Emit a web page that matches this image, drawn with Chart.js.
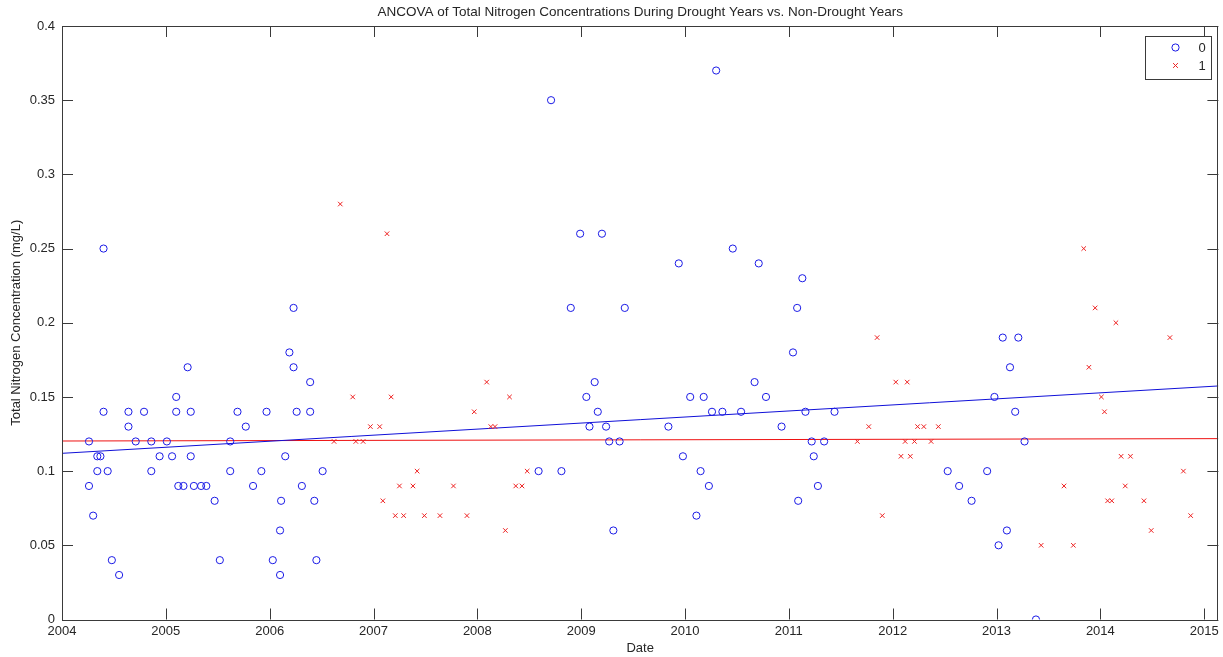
<!DOCTYPE html>
<html>
<head>
<meta charset="utf-8">
<script src="https://cdn.jsdelivr.net/npm/chart.js@4.4.1/dist/chart.umd.min.js"></script>
<style>
html,body{margin:0;padding:0;background:#fff;}
#wrap{width:1223px;height:657px;}
</style>
</head>
<body>
<div id="wrap"><canvas id="c" width="1223" height="657"></canvas></div>
<script>
const chartTitle = 'ANCOVA of Total Nitrogen Concentrations During Drought Years vs. Non-Drought Years';
const xTitle = 'Date';
const yTitle = 'Total Nitrogen Concentration (mg/L)';
const seriesLabels = ['0', '1'];
const xTicks = [2004, 2005, 2006, 2007, 2008, 2009, 2010, 2011, 2012, 2013, 2014, 2015];
const yTicks = [0, 0.05, 0.1, 0.15, 0.2, 0.25, 0.3, 0.35, 0.4];
const xRange = [2004, 2015.137];

// Group 0 (non-drought): decimal year and TN (mg/L)
const dates0 = [2004.26, 2004.26, 2004.30, 2004.34, 2004.37, 2004.34, 2004.40, 2004.40, 2004.44, 2004.48,
  2004.55, 2004.64, 2004.64, 2004.71, 2004.79, 2004.86, 2004.86, 2004.94, 2005.01, 2005.06,
  2005.10, 2005.10, 2005.12, 2005.17, 2005.21, 2005.24, 2005.24, 2005.27, 2005.34, 2005.39,
  2005.47, 2005.52, 2005.62, 2005.62, 2005.69, 2005.77, 2005.84, 2005.92, 2005.97, 2006.03,
  2006.10, 2006.10, 2006.11, 2006.15, 2006.19, 2006.23, 2006.23, 2006.26, 2006.31, 2006.39,
  2006.39, 2006.43, 2006.45, 2006.51, 2008.59, 2008.71, 2008.81, 2008.90, 2008.99, 2009.05,
  2009.08, 2009.13, 2009.16, 2009.20, 2009.24, 2009.27, 2009.31, 2009.37, 2009.42, 2009.84,
  2009.94, 2009.98, 2010.05, 2010.11, 2010.15, 2010.18, 2010.23, 2010.26, 2010.30, 2010.36,
  2010.46, 2010.54, 2010.67, 2010.71, 2010.78, 2010.93, 2011.04, 2011.08, 2011.09, 2011.13,
  2011.16, 2011.22, 2011.24, 2011.28, 2011.34, 2011.44, 2012.53, 2012.64, 2012.76, 2012.91,
  2012.98, 2013.02, 2013.06, 2013.10, 2013.13, 2013.18, 2013.21, 2013.27, 2013.38];
const tn0 = [0.12, 0.09, 0.07, 0.11, 0.11, 0.10, 0.14, 0.25, 0.10, 0.04,
  0.03, 0.14, 0.13, 0.12, 0.14, 0.12, 0.10, 0.11, 0.12, 0.11,
  0.15, 0.14, 0.09, 0.09, 0.17, 0.14, 0.11, 0.09, 0.09, 0.09,
  0.08, 0.04, 0.12, 0.10, 0.14, 0.13, 0.09, 0.10, 0.14, 0.04,
  0.03, 0.06, 0.08, 0.11, 0.18, 0.17, 0.21, 0.14, 0.09, 0.16,
  0.14, 0.08, 0.04, 0.10, 0.10, 0.35, 0.10, 0.21, 0.26, 0.15,
  0.13, 0.16, 0.14, 0.26, 0.13, 0.12, 0.06, 0.12, 0.21, 0.13,
  0.24, 0.11, 0.15, 0.07, 0.10, 0.15, 0.09, 0.14, 0.37, 0.14,
  0.25, 0.14, 0.16, 0.24, 0.15, 0.13, 0.18, 0.21, 0.08, 0.23,
  0.14, 0.12, 0.11, 0.09, 0.12, 0.14, 0.10, 0.09, 0.08, 0.10,
  0.15, 0.05, 0.19, 0.06, 0.17, 0.14, 0.19, 0.12, 0.00];

// Group 1 (drought)
const dates1 = [2006.62, 2006.68, 2006.80, 2006.83, 2006.90, 2006.97, 2007.06, 2007.09, 2007.13, 2007.17,
  2007.21, 2007.25, 2007.29, 2007.38, 2007.42, 2007.49, 2007.64, 2007.77, 2007.90, 2007.97,
  2008.09, 2008.13, 2008.17, 2008.27, 2008.31, 2008.37, 2008.43, 2008.48, 2011.66, 2011.77,
  2011.85, 2011.90, 2012.03, 2012.08, 2012.12, 2012.14, 2012.17, 2012.21, 2012.24, 2012.30,
  2012.37, 2012.44, 2013.43, 2013.65, 2013.74, 2013.84, 2013.89, 2013.95, 2014.01, 2014.04,
  2014.07, 2014.11, 2014.15, 2014.20, 2014.24, 2014.29, 2014.42, 2014.49, 2014.67, 2014.80,
  2014.87];
const tn1 = [0.12, 0.28, 0.15, 0.12, 0.12, 0.13, 0.13, 0.08, 0.26, 0.15,
  0.07, 0.09, 0.07, 0.09, 0.10, 0.07, 0.07, 0.09, 0.07, 0.14,
  0.16, 0.13, 0.13, 0.06, 0.15, 0.09, 0.09, 0.10, 0.12, 0.13,
  0.19, 0.07, 0.16, 0.11, 0.12, 0.16, 0.11, 0.12, 0.13, 0.13,
  0.12, 0.13, 0.05, 0.09, 0.05, 0.25, 0.17, 0.21, 0.15, 0.14,
  0.08, 0.08, 0.20, 0.11, 0.09, 0.11, 0.08, 0.06, 0.19, 0.10,
  0.07];

// Fitted ANCOVA lines: values at the ends of the x range
const fit0 = [0.112, 0.1574];
const fit1 = [0.1203, 0.1219];

const blue = '#1a1ae6';
const red = '#ee2222';
const axisColor = '#3a3a3a';
const textColor = '#262626';
const fontFamily = '"Liberation Sans", Arial, sans-serif';

const toPts = (xs, ys) => xs.map((x, i) => ({x: x, y: ys[i]}));

const framePlugin = {
  id: 'frame',
  afterDraw(chart) {
    const ctx = chart.ctx;
    const a = chart.chartArea;
    const tl = 11;
    ctx.save();
    ctx.strokeStyle = axisColor;
    ctx.lineWidth = 1;
    ctx.strokeRect(Math.round(a.left) + 0.5, Math.round(a.top) + 0.5, Math.round(a.right - a.left) - 1, Math.round(a.bottom - a.top));
    ctx.beginPath();
    const xs = chart.scales.x, ys = chart.scales.y;
    xs.ticks.forEach(t => {
      const px = Math.round(xs.getPixelForValue(t.value)) + 0.5;
      ctx.moveTo(px, a.bottom); ctx.lineTo(px, a.bottom - tl);
      ctx.moveTo(px, a.top); ctx.lineTo(px, a.top + tl);
    });
    ys.ticks.forEach(t => {
      const py = Math.round(ys.getPixelForValue(t.value)) + 0.5;
      ctx.moveTo(a.left, py); ctx.lineTo(a.left + tl, py);
      ctx.moveTo(a.right, py); ctx.lineTo(a.right - tl, py);
    });
    ctx.stroke();

    // title
    ctx.fillStyle = textColor;
    ctx.font = '13.5px ' + fontFamily;
    ctx.textAlign = 'center';
    ctx.textBaseline = 'middle';
    ctx.fillText(chartTitle, (a.left + a.right) / 2, 12);

    // legend
    const bw = 66, bh = 43;
    const bx = Math.round(a.right - 7 - bw) + 0.5, by = Math.round(a.top + 10) + 0.5;
    ctx.fillStyle = '#fff';
    ctx.fillRect(bx, by, bw, bh);
    ctx.strokeStyle = axisColor;
    ctx.strokeRect(bx, by, bw, bh);
    const rows = [by + 11, by + 29];
    chart.data.datasets.filter(d => d.legend).forEach((d, i) => {
      const mx = bx + 30, my = rows[i];
      ctx.strokeStyle = d.borderColor;
      ctx.lineWidth = 1;
      ctx.beginPath();
      if (d.pointStyle === 'circle') {
        ctx.arc(mx, my, d.pointRadius, 0, Math.PI * 2);
      } else {
        const r = d.pointRadius * 0.75;
        ctx.moveTo(mx - r, my - r); ctx.lineTo(mx + r, my + r);
        ctx.moveTo(mx - r, my + r); ctx.lineTo(mx + r, my - r);
      }
      ctx.stroke();
      ctx.fillStyle = textColor;
      ctx.font = '13px ' + fontFamily;
      ctx.textAlign = 'left';
      ctx.fillText(d.label, bx + 53, my + 1);
    });
    ctx.restore();
  }
};

new Chart(document.getElementById('c'), {
  type: 'scatter',
  data: {
    datasets: [
      {label: seriesLabels[0], legend: true, data: toPts(dates0, tn0), pointStyle: 'circle', pointRadius: 3.6,
        borderColor: blue, backgroundColor: 'rgba(0,0,0,0)', borderWidth: 1, pointHoverRadius: 3.6},
      {label: seriesLabels[1], legend: true, data: toPts(dates1, tn1), pointStyle: 'crossRot', pointRadius: 3.2,
        borderColor: red, backgroundColor: red, borderWidth: 1, pointHoverRadius: 3.2},
      {label: 'fit0', data: toPts(xRange, fit0), showLine: true, pointRadius: 0, borderColor: '#1010d8', borderWidth: 1, fill: false},
      {label: 'fit1', data: toPts(xRange, fit1), showLine: true, pointRadius: 0, borderColor: '#ee1111', borderWidth: 1, fill: false}
    ]
  },
  options: {
    responsive: false,
    animation: false,
    devicePixelRatio: 1,
    layout: {padding: {top: 26, right: 2, left: 0, bottom: 0}},
    plugins: {legend: {display: false}, title: {display: false}, tooltip: {enabled: false}},
    scales: {
      x: {
        type: 'linear', min: xRange[0], max: xRange[1],
        afterBuildTicks: s => { s.ticks = xTicks.map(v => ({value: v})); },
        afterFit: s => { s.height = 37.5; },
        grid: {display: true, drawOnChartArea: false, drawTicks: false},
        border: {display: false},
        ticks: {color: textColor, font: {family: fontFamily, size: 13}, padding: 4, maxRotation: 0,
          callback: v => String(v)},
        title: {display: true, text: xTitle, color: textColor, font: {family: fontFamily, size: 13}, padding: {top: 0, bottom: 1}}
      },
      y: {
        type: 'linear', min: yTicks[0], max: yTicks[yTicks.length - 1],
        afterBuildTicks: s => { s.ticks = yTicks.map(v => ({value: v})); },
        afterFit: s => { s.width = 62; },
        grid: {display: true, drawOnChartArea: false, drawTicks: false},
        border: {display: false},
        ticks: {color: textColor, font: {family: fontFamily, size: 13}, padding: 7,
          callback: v => String(Math.round(v * 100) / 100)},
        title: {display: true, text: yTitle, color: textColor, font: {family: fontFamily, size: 13}, padding: {top: 9, bottom: 0}}
      }
    }
  },
  plugins: [framePlugin]
});
</script>
</body>
</html>
